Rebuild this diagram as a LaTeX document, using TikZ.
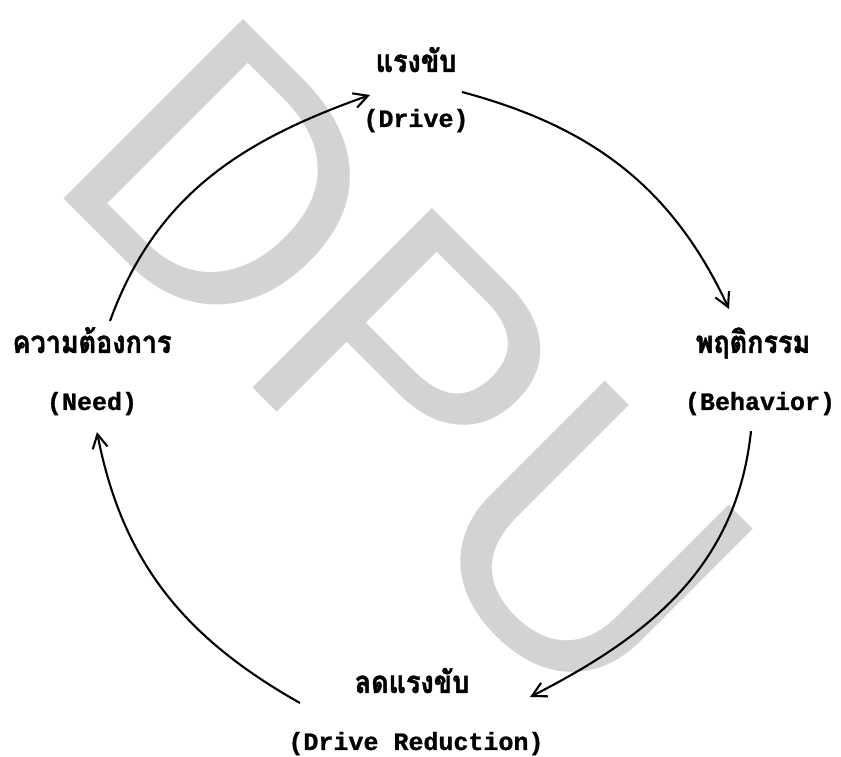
\documentclass[tikz,border=0pt]{standalone}
\usepackage{fontspec}
\setmonofont[BoldFeatures={FakeBold=1}]{Liberation Mono}
\newfontfamily\thaifont[Script=Thai, FakeStretch=0.87, BoldFeatures={FakeBold=1.5}]{Loma}
\newfontfamily\markfont{Liberation Sans}
\usepackage{tikz}
\usetikzlibrary{arrows.meta, positioning}
\definecolor{markgray}{RGB}{211, 211, 211}

\tikzset{
  thlabel/.style={anchor=base, inner sep=0pt, font=\thaifont\bfseries\fontsize{31}{31}\selectfont},
  enlabel/.style={anchor=base, inner sep=0pt, font=\ttfamily\bfseries\fontsize{25}{25}\selectfont},
  cycarrow/.style={line width=2.1pt, -{Straight Barb[length=14pt,width=15pt]}}
}

\begin{document}
\begin{tikzpicture}[x=1pt, y=1pt]
    \useasboundingbox (0,0) rectangle (841,757);

    % Watermark
    \node[anchor=base west, inner sep=0pt, rotate=-45, text=markgray,
          font=\markfont\fontsize{369}{369}\selectfont] (mark) at (42.5,579.5) {DPU};

    % Labels
    \node[thlabel] (driveTh) at (416,685) {แรงขับ};
    \node[enlabel] (driveEn) at (416,630) {(Drive)};
    \node[thlabel] (behavTh) at (753,404) {พฤติกรรม};
    \node[enlabel] (behavEn) at (760,347) {(Behavior)};
    \node[thlabel] (reducTh) at (412,64) {ลดแรงขับ};
    \node[enlabel] (reducEn) at (416,7) {(Drive Reduction)};
    \node[thlabel] (needTh) at (92,404) {ความต้องการ};
    \node[enlabel] (needEn) at (92,347) {(Need)};

    % Cycle arrows
    \draw[cycarrow] ([shift={(18,32)}]needTh.base) to[out=70, in=199.5] ([shift={(-46,32)}]driveEn.base);
    \draw[cycarrow] ([shift={(46,35)}]driveEn.base) to[out=-15, in=115] ([shift={(-24,44)}]behavTh.base);
    \draw[cycarrow] ([shift={(-9,-21)}]behavEn.base) to[out=-96, in=27] ([shift={(118,-4)}]reducTh.base);
    \draw[cycarrow] ([shift={(-112,-10)}]reducTh.base) to[out=150.6, in=-79] ([shift={(5,-22)}]needEn.base);
\end{tikzpicture}
\end{document}
